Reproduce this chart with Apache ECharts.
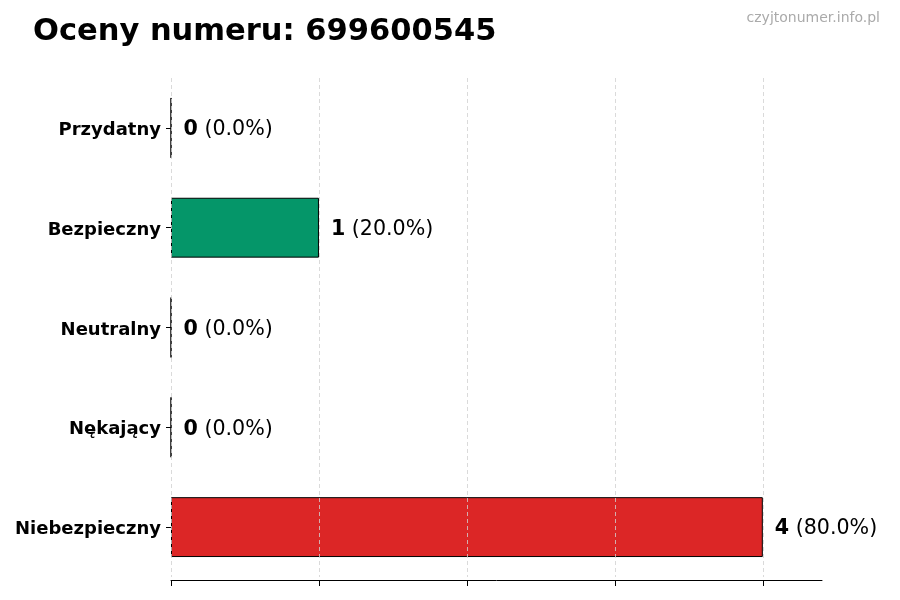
<!DOCTYPE html>
<html><head><meta charset="utf-8">
<script src="https://cdn.jsdelivr.net/npm/echarts@6/dist/echarts.min.js"></script>
<style>html,body{margin:0;padding:0;background:#fff}#c{width:900px;height:600px}</style>
</head><body><div id="c"></div>
<script>
const categories = ['Przydatny', 'Bezpieczny', 'Neutralny', 'Nękający', 'Niebezpieczny'];
const values = [0, 1, 0, 0, 4];
const colors = ['#2563eb', '#059669', '#6b7280', '#d97706', '#dc2626'];
const xTicks = [0, 1, 2, 3, 4];
const titleText = 'Oceny numeru: 699600545';
const watermark = 'czyjtonumer.info.pl';

const total = values.reduce((a, b) => a + b, 0);
const chart = echarts.init(document.getElementById('c'));
chart.setOption({
  animation: false,
  backgroundColor: '#fff',
  textStyle: { fontFamily: 'DejaVu Sans' },
  title: [
    { text: titleText, left: 33, top: 17, padding: 0, textStyle: { fontFamily: 'DejaVu Sans', fontWeight: 'bold', fontSize: 30.5, color: '#000' } },
    { text: watermark, right: 20, top: 11, padding: 0, textStyle: { fontFamily: 'DejaVu Sans', fontWeight: 'normal', fontSize: 14, color: '#aaaaaa' } }
  ],
  grid: { left: 171, right: 78, top: 78, bottom: 23, containLabel: false },
  xAxis: {
    type: 'value', min: 0, max: 4.4, interval: 1, z: 5, offset: 3,
    axisLine: { show: true, lineStyle: { color: '#000', width: 1 } },
    axisTick: { show: true, length: 6, lineStyle: { color: '#000' }, customValues: xTicks },
    axisLabel: { show: false },
    splitLine: { show: true, lineStyle: { color: '#d0d0d0', type: [4, 3], width: 0.8 } }
  },
  yAxis: {
    type: 'category', data: categories, inverse: true,
    axisLine: { show: false },
    axisTick: { show: true, alignWithLabel: true, length: 5, lineStyle: { color: '#000' } },
    axisLabel: {
      margin: 10, formatter: '{a|{value}}',
      rich: { a: { padding: [5, 0, 0, 0], fontFamily: 'DejaVu Sans', fontWeight: 'bold', fontSize: 18, color: '#000' } }
    },
    splitLine: { show: false }
  },
  series: [{
    type: 'bar',
    barWidth: '60%',
    data: values.map((v, i) => ({ value: v, itemStyle: { color: colors[i] } })),
    itemStyle: { borderColor: '#000', borderWidth: 1 },
    label: {
      show: true, position: 'right', distance: 12, padding: [4, 0, 0, 0],
      formatter: p => '{b|' + p.value + '}{n| (' + (total ? (p.value / total * 100) : 0).toFixed(1) + '%)}',
      rich: {
        b: { fontFamily: 'DejaVu Sans', fontWeight: 'bold', fontSize: 20.6, color: '#000' },
        n: { fontFamily: 'DejaVu Sans', fontSize: 20.6, color: '#000' }
      }
    }
  }]
});
</script></body></html>
